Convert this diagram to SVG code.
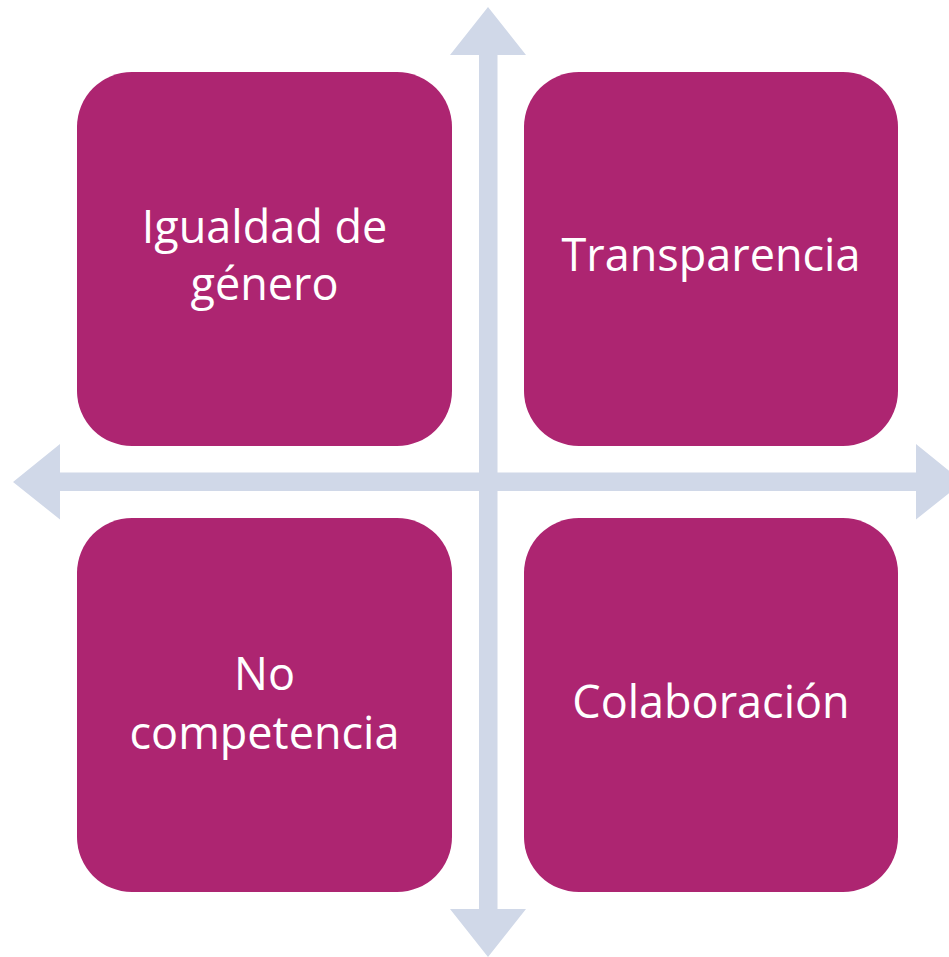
<svg xmlns="http://www.w3.org/2000/svg" width="949" height="957" viewBox="0 0 949 957">
<style>
.box{fill:#AD2571}
.arrow{fill:#D0D8E8}
.lbl{fill:#FFFFFF;font-family:"Open Sans","Liberation Sans",sans-serif;font-size:45px;text-anchor:middle}
</style>
<rect width="949" height="957" fill="#FFFFFF"/>
<g id="node-igualdad">
<rect class="box" x="77" y="72" width="375" height="374" rx="55" ry="55"/>
<text class="lbl" x="264.5" y="243">Igualdad de</text>
<text class="lbl" x="264.5" y="300">género</text>
</g>
<g id="node-transparencia">
<rect class="box" x="524" y="72" width="374" height="374" rx="55" ry="55"/>
<text class="lbl" x="711" y="271">Transparencia</text>
</g>
<g id="node-nocompetencia">
<rect class="box" x="77" y="518" width="375" height="374" rx="55" ry="55"/>
<text class="lbl" x="264.5" y="690">No</text>
<text class="lbl" x="264.5" y="749">competencia</text>
</g>
<g id="node-colaboracion">
<rect class="box" x="524" y="518" width="374" height="374" rx="55" ry="55"/>
<text class="lbl" x="711" y="718">Colaboración</text>
</g>
<g id="connectors">
<polygon class="arrow" points="488,7 526,55 497.5,55 497.5,909 526,909 488,957 450,909 479,909 479,55 450,55"/>
<polygon class="arrow" points="13,482 60,444 60,472.5 916,472.5 916,444 963,482 916,519.5 916,491 60,491 60,519.5"/>
</g>
</svg>
